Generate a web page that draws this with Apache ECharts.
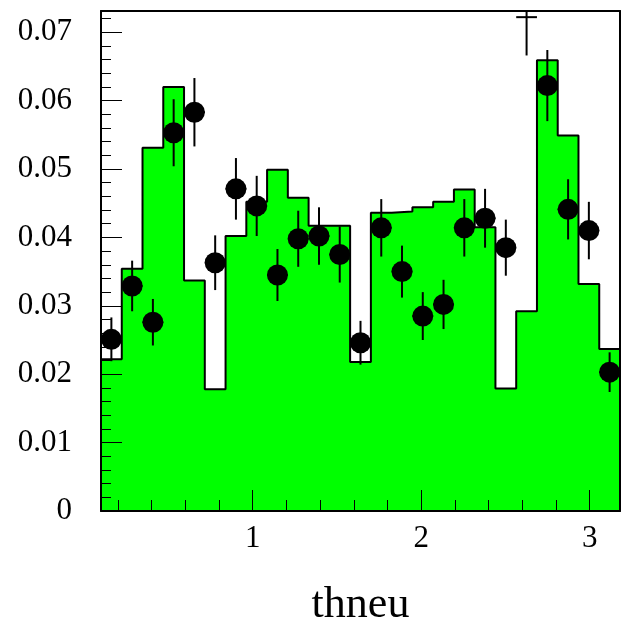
<!DOCTYPE html>
<html><head><meta charset="utf-8">
<script src="https://cdn.jsdelivr.net/npm/echarts@6/dist/echarts.min.js"></script>
<style>html,body{margin:0;padding:0;background:#fff}#c{width:626px;height:620px}</style>
</head><body><div id="c"></div>
<script>
// ---- data ----
const binLow = 0.1;
const binHigh = 3.18;
const histValues = [0.0222,0.0354,0.0531,0.0620,0.0337,0.0178,0.0402,0.0452,0.0499,0.0458,0.0417,0.0417,0.0218,0.0436,0.0438,0.0444,0.0452,0.0470,0.0415,0.0179,0.0292,0.0659,0.0549,0.0332,0.0237];
const dataValues = [0.0251,0.0329,0.0276,0.0553,0.0583,0.0363,0.0471,0.0446,0.0345,0.0398,0.0402,0.0375,0.0246,0.0414,0.0350,0.0285,0.0302,0.0414,0.0428,0.0385,0.0722,0.0622,0.0441,0.0410,0.0203];
const dataErrors = [0.0032,0.0037,0.0034,0.0049,0.0050,0.0040,0.0045,0.0044,0.0038,0.0041,0.0042,0.0041,0.0032,0.0042,0.0038,0.0035,0.0036,0.0042,0.0043,0.0041,0.0056,0.0052,0.0044,0.0042,0.0029];
const xMajorTicks = [1, 2, 3];
const xMinorTicks = [0.2,0.4,0.6,0.8,1.2,1.4,1.6,1.8,2.2,2.4,2.6,2.8,3.0];
const yMajorTicks = [0, 0.01, 0.02, 0.03, 0.04, 0.05, 0.06, 0.07];
const yMinorTicks = [0.002,0.004,0.006,0.008,0.012,0.014,0.016,0.018,0.022,0.024,0.026,0.028,0.032,0.034,0.036,0.038,0.042,0.044,0.046,0.048,0.052,0.054,0.056,0.058,0.062,0.064,0.066,0.068,0.072];
const xTitle = 'thneu';
const yMax = 0.0731;

// ---- derived ----
const nBins = histValues.length;
const binW = (binHigh - binLow) / nBins;
const edges = [];
for (let i = 0; i <= nBins; i++) edges.push(binLow + i * binW);
const outline = [];
histValues.forEach((v, i) => { outline.push([edges[i], v]); outline.push([edges[i + 1], v]); });
const pointData = dataValues.map((v, i) => [(edges[i] + edges[i + 1]) / 2, v, dataErrors[i], edges[i], edges[i + 1]]);

const FONT = 'Liberation Serif';
const lbl = { fontFamily: FONT, fontSize: 31, color: '#000' };
const black = '#000';

const chart = echarts.init(document.getElementById('c'), null, { renderer: 'canvas' });
chart.setOption({
  animation: false,
  backgroundColor: '#fff',
  grid: { left: 101, top: 11, width: 519, height: 500, show: false, containLabel: false, outerBoundsMode: 'none' },
  xAxis: [
    { type: 'value', min: binLow, max: binHigh, position: 'bottom', z: 10,
      axisLine: { show: true, onZero: false, lineStyle: { color: black, width: 2 } },
      axisTick: { show: true, inside: true, length: 21, customValues: xMajorTicks, lineStyle: { color: black, width: 1 } },
      axisLabel: { show: true, customValues: xMajorTicks, margin: 12, ...lbl },
      splitLine: { show: false },
      name: xTitle, nameLocation: 'middle', nameGap: 72,
      nameTextStyle: { fontFamily: FONT, fontSize: 44, color: black } },
    { type: 'value', min: binLow, max: binHigh, position: 'bottom', z: 10,
      axisLine: { show: false },
      axisTick: { show: true, inside: true, length: 11, customValues: xMinorTicks, lineStyle: { color: black, width: 1 } },
      axisLabel: { show: false }, splitLine: { show: false } },
    { type: 'value', min: binLow, max: binHigh, position: 'top', z: 10,
      axisLine: { show: true, onZero: false, lineStyle: { color: black, width: 2 } },
      axisTick: { show: false }, axisLabel: { show: false }, splitLine: { show: false } }
  ],
  yAxis: [
    { type: 'value', min: 0, max: yMax, position: 'left', z: 10,
      axisLine: { show: true, onZero: false, lineStyle: { color: black, width: 2 } },
      axisTick: { show: true, inside: true, length: 21, customValues: yMajorTicks, lineStyle: { color: black, width: 1 } },
      axisLabel: { show: true, customValues: yMajorTicks, margin: 29, ...lbl,
        formatter: v => (v === 0 ? '0' : v.toFixed(2)) },
      splitLine: { show: false } },
    { type: 'value', min: 0, max: yMax, position: 'left', z: 10,
      axisLine: { show: false },
      axisTick: { show: true, inside: true, length: 10, customValues: yMinorTicks, lineStyle: { color: black, width: 1 } },
      axisLabel: { show: false }, splitLine: { show: false } },
    { type: 'value', min: 0, max: yMax, position: 'right', z: 10,
      axisLine: { show: true, onZero: false, lineStyle: { color: black, width: 2 } },
      axisTick: { show: false }, axisLabel: { show: false }, splitLine: { show: false } }
  ],
  series: [
    { type: 'line', xAxisIndex: 0, yAxisIndex: 0, z: 2, data: outline, symbol: 'none',
      lineStyle: { color: black, width: 2 }, areaStyle: { color: '#00ff00', opacity: 1, origin: 'start' }, silent: true },
    { type: 'custom', xAxisIndex: 0, yAxisIndex: 0, z: 3, data: pointData,
      encode: { x: 0, y: 1 },
      renderItem: (params, api) => {
        const cs = params.coordSys;
        const x = api.value(0), y = api.value(1), e = api.value(2);
        const top = api.coord([x, y + e]), bot = api.coord([x, y - e]);
        const l = api.coord([api.value(3), y]), r = api.coord([api.value(4), y]);
        const yTop = Math.max(top[1], cs.y), yBot = Math.min(bot[1], cs.y + cs.height);
        const children = [
          { type: 'line', shape: { x1: top[0], y1: yTop, x2: bot[0], y2: yBot }, style: { stroke: black, lineWidth: 2 } },
          { type: 'line', shape: { x1: l[0], y1: l[1], x2: r[0], y2: r[1] }, style: { stroke: black, lineWidth: 2 } }
        ];
        const rad = 10.5;
        const c = api.coord([x, y]);
        if (c[1] - rad >= cs.y) {
          children.push({ type: 'circle', shape: { cx: c[0], cy: c[1], r: rad }, style: { fill: black } });
        }
        return { type: 'group', children };
      } }
  ]
});
</script></body></html>
